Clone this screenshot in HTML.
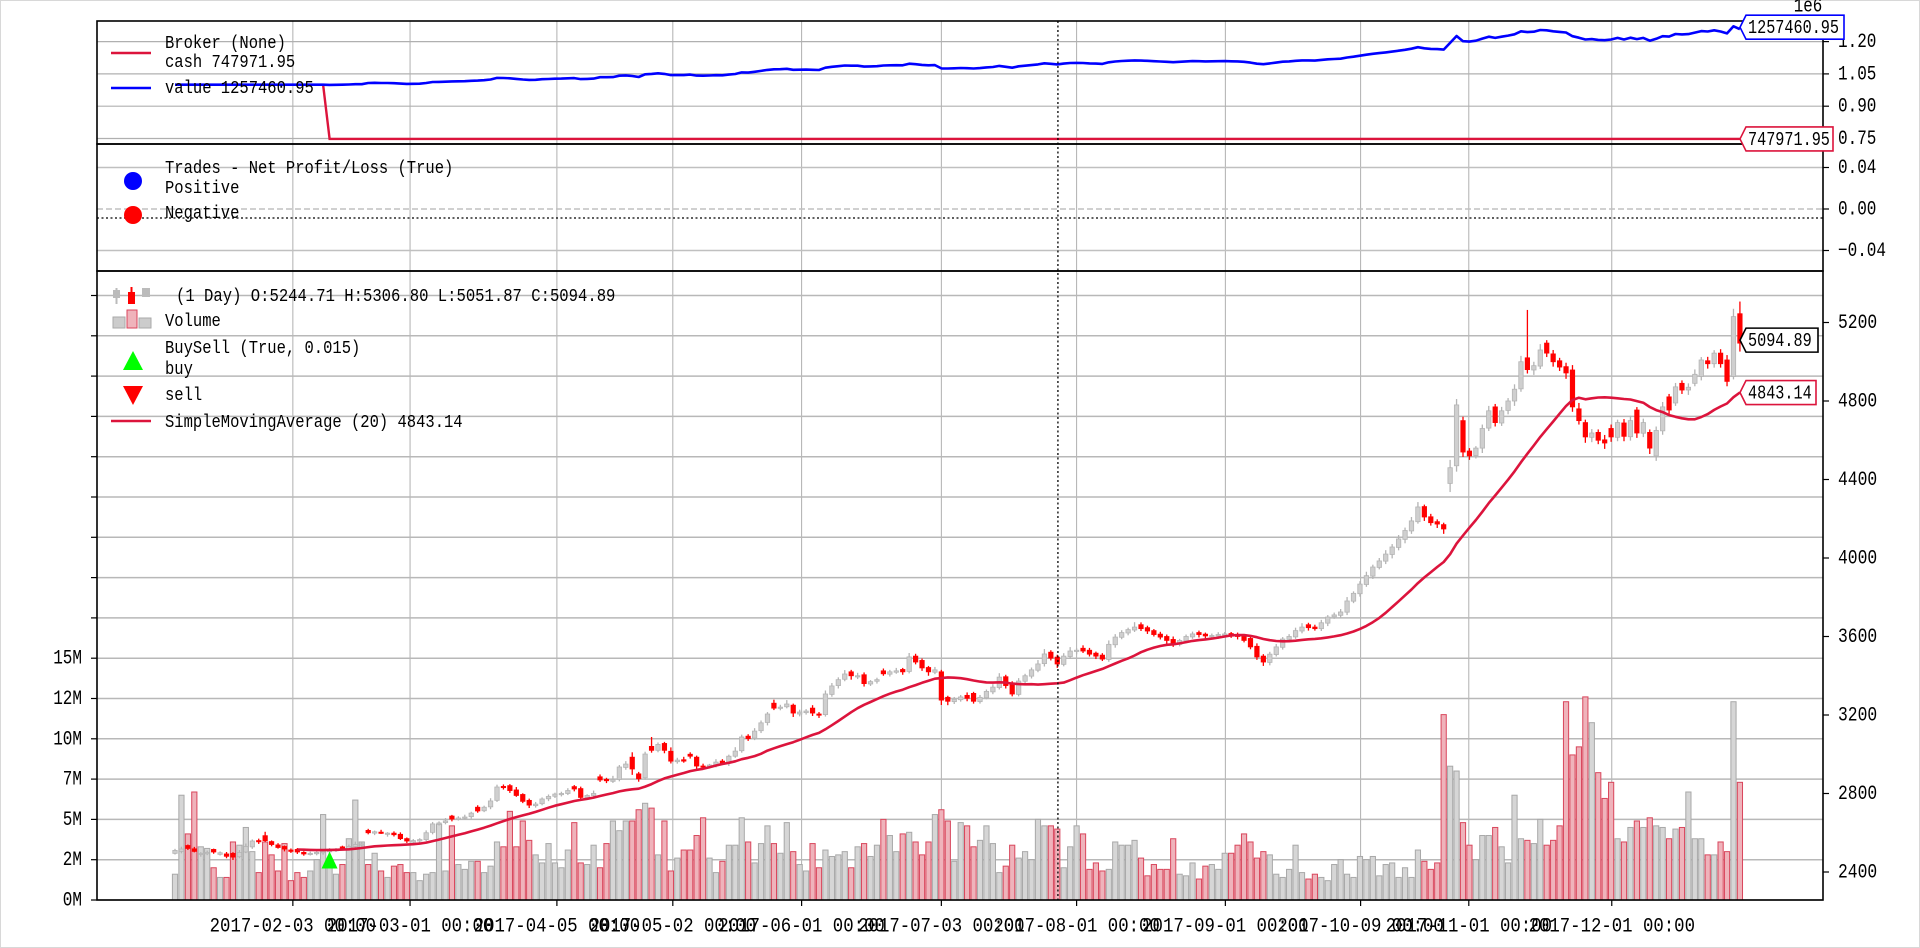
<!DOCTYPE html>
<html><head><meta charset="utf-8"><title>Backtrader chart</title>
<style>html,body{margin:0;padding:0;background:#fff}svg{display:block}text{font-family:"Liberation Mono","DejaVu Sans Mono",monospace;fill:#000}</style>
</head><body>
<svg id="chart" width="1920" height="948" viewBox="0 0 1920 948" xmlns="http://www.w3.org/2000/svg">
<rect x="0.5" y="0.5" width="1919" height="947" fill="#fff" stroke="#d8d8d8"/>
</svg>
<script>
const closes=[2510,2517,2520,2505,2495,2500,2502,2498,2480,2476,
2500,2530,2558,2555,2560,2540,2525,2517,2505,2502,
2492,2495,2500,2505,2510,2515,2520,2530,2540,2543,
2600,2605,2600,2598,2590,2570,2558,2560,2565,2600,
2645,2650,2660,2670,2675,2680,2700,2711,2730,2762,
2833,2830,2815,2790,2760,2741,2746,2772,2785,2797,
2800,2815,2823,2780,2790,2800,2869,2865,2870,2935,
2950,2925,2875,3001,3020,3050,3020,2965,2970,2965,
2990,2940,2935,2945,2960,2955,2990,3016,3088,3080,
3118,3160,3205,3235,3240,3256,3210,3215,3220,3210,
3200,3307,3348,3380,3409,3400,3400,3360,3370,3380,
3410,3420,3425,3420,3496,3470,3440,3420,3430,3276,
3270,3280,3292,3285,3270,3290,3320,3342,3393,3350,
3307,3373,3400,3430,3460,3511,3490,3460,3500,3526,
3530,3526,3510,3500,3485,3560,3597,3620,3635,3648,
3640,3628,3610,3597,3580,3562,3580,3600,3613,3610,
3603,3605,3610,3613,3605,3600,3580,3547,3496,3470,
3510,3547,3587,3600,3630,3648,3645,3640,3670,3699,
3710,3725,3781,3820,3867,3910,3954,3985,4020,4056,
4097,4140,4189,4260,4209,4180,4173,4148,4460,4780,
4540,4520,4560,4660,4750,4690,4750,4800,4860,5000,
4960,4980,5060,5044,5000,4973,4943,4770,4700,4617,
4637,4600,4586,4617,4690,4620,4700,4637,4690,4560,
4650,4770,4754,4872,4856,4870,4936,5009,4990,5044,
4990,4900,5230,5094.89];
const opens=[2495,2505,2535,2518,2490,2493,2515,2490,2492,2495,
2478,2502,2528,2560,2585,2555,2538,2530,2512,2515,
2500,2490,2493,2498,2503,2508,2528,2518,2530,2538,
2612,2598,2603,2592,2598,2592,2570,2552,2558,2565,
2602,2644,2652,2685,2668,2674,2682,2730,2712,2732,
2765,2836,2840,2818,2795,2765,2738,2748,2773,2786,
2795,2800,2835,2825,2778,2790,2885,2872,2862,2872,
2933,2985,2900,2880,3040,3020,3055,3015,2962,2972,
3000,2985,2940,2935,2945,2965,2955,2990,3018,3092,
3082,3120,3162,3260,3236,3242,3250,3205,3212,3235,
3205,3202,3305,3350,3382,3420,3395,3405,3358,3372,
3425,3408,3418,3432,3422,3500,3478,3442,3418,3420,
3290,3268,3278,3300,3310,3268,3288,3318,3340,3395,
3360,3305,3372,3398,3428,3462,3520,3495,3458,3498,
3524,3540,3530,3515,3505,3483,3558,3596,3618,3633,
3660,3645,3630,3612,3600,3585,3560,3578,3598,3620,
3612,3600,3603,3608,3615,3608,3602,3590,3550,3500,
3468,3508,3545,3585,3598,3628,3660,3648,3640,3668,
3700,3708,3724,3780,3818,3865,3908,3952,3984,4018,
4054,4095,4138,4185,4262,4210,4185,4170,4380,4470,
4700,4545,4522,4560,4662,4770,4688,4752,4800,4862,
5020,4958,4978,5095,5040,5005,4975,4958,4760,4690,
4615,4640,4602,4660,4615,4688,4618,4754,4636,4640,
4520,4648,4821,4790,4890,4856,4890,4925,5005,4990,
5044,5009,4925,5244.71];
const upWicks=[8,12,5,10,6,9,4,7,10,6,12,15,8,10,20,6,9,5,8,7,
6,9,5,8,12,7,6,10,15,9,8,6,12,5,9,10,6,8,7,12,
10,8,15,6,9,12,7,10,8,14,12,10,8,15,6,9,11,8,10,7,
9,12,8,10,6,15,12,8,20,10,15,25,10,12,48,10,8,20,12,15,
10,8,12,6,15,10,8,20,12,10,15,12,10,18,12,20,8,12,10,15,
10,18,15,12,20,10,15,12,8,10,12,10,15,8,20,12,10,8,15,10,
8,12,10,15,8,12,10,15,20,10,12,15,10,12,20,25,10,12,15,20,
10,15,12,8,10,20,15,12,10,25,12,10,8,12,10,15,8,10,12,10,
8,10,12,10,8,12,10,8,15,10,12,15,10,12,15,20,10,12,15,10,
12,15,20,10,15,20,12,15,20,15,20,15,20,25,10,15,12,10,40,30,
20,15,10,20,25,15,20,15,25,30,244,20,30,15,20,15,20,25,30,15,
20,15,25,20,15,20,25,15,20,15,20,25,15,20,15,20,25,15,20,15,
20,25,40,62.09];
const lowWicks=[6,10,8,5,12,7,9,6,10,15,8,6,10,12,7,9,6,12,8,10,
9,6,8,10,12,6,8,9,7,10,8,10,6,12,9,7,10,6,12,8,
10,7,9,12,6,8,10,9,7,12,8,10,12,7,9,15,10,8,12,9,
10,8,12,15,9,7,10,12,8,10,12,30,15,10,12,10,15,12,10,8,
12,15,10,8,12,10,15,8,10,12,10,12,15,10,12,8,20,12,10,15,
15,10,12,15,10,20,12,15,10,12,10,12,8,15,10,12,15,20,10,25,
20,12,10,15,12,10,8,12,10,15,12,10,15,12,10,15,12,20,10,12,
15,10,12,15,10,12,15,10,12,10,12,15,10,12,20,15,10,12,10,15,
12,10,15,10,12,15,10,12,15,20,15,10,12,15,10,12,15,10,12,15,
10,12,15,10,15,12,15,10,15,20,15,20,15,10,20,15,20,25,44,30,
25,20,15,25,15,20,15,20,25,15,20,25,15,20,25,20,30,25,20,30,
25,20,30,25,20,25,20,25,20,30,25,20,25,15,20,25,15,20,25,20,
20,25,15,43.02];
const volumes=[1.6,6.5,4.1,6.7,3.3,3.2,2.0,1.4,1.4,3.6,
3.4,4.5,3.0,1.7,3.6,2.8,1.8,3.5,1.2,1.7,
1.4,1.8,2.5,5.3,2.4,1.6,2.2,3.8,6.2,3.6,
2.2,2.9,1.8,1.4,2.1,2.2,1.7,1.7,1.2,1.6,
1.7,4.7,1.8,4.6,2.2,1.9,2.4,2.4,1.7,2.1,
3.6,3.3,5.5,3.3,4.9,3.7,2.8,2.3,3.5,2.3,
2.0,3.1,4.8,2.3,2.2,3.4,2.0,3.5,4.9,4.3,
4.9,4.9,5.6,6.0,5.7,2.8,4.9,1.8,2.6,3.1,
3.1,4.0,5.1,2.6,1.7,2.4,3.4,3.4,5.1,3.6,
2.3,3.5,4.6,3.5,2.9,4.8,3.0,2.2,1.8,3.5,
2.0,3.1,2.7,2.8,3.0,2.0,3.3,3.5,2.7,3.4,
5.0,4.0,3.0,4.1,4.2,3.6,2.8,3.6,5.3,5.6,
4.9,2.4,4.8,4.6,3.3,3.7,4.6,3.5,1.7,2.1,
3.4,2.6,3.0,2.5,5.0,4.6,4.6,4.4,2.0,3.3,
4.6,4.1,1.9,2.3,1.8,1.9,3.6,3.4,3.4,3.7,
2.6,1.5,2.2,1.9,1.9,3.8,1.6,1.5,2.3,1.3,
2.1,2.2,1.9,2.9,2.9,3.4,4.1,3.6,2.6,3.0,
2.8,1.6,1.4,1.9,3.4,1.7,1.3,1.6,1.4,1.2,
2.2,2.5,1.6,1.4,2.7,2.5,2.7,1.5,2.2,2.3,
1.4,2.0,1.4,3.1,2.4,1.9,2.3,11.5,8.3,8.0,
4.8,3.4,2.5,4.0,4.0,4.5,3.3,2.3,6.5,3.8,
3.7,3.5,5.0,3.4,3.7,4.6,12.3,9.0,9.5,12.6,
11.0,7.9,6.3,7.3,3.8,3.6,4.5,4.9,4.5,5.1,
4.6,4.5,3.8,4.4,4.5,6.7,3.8,3.8,2.8,2.8,
3.6,3.0,12.3,7.3];
const xTickIndex=[18.3,36.5,59.3,77.3,97.3,119,140,163.1,184.1,200.9,223.1];
const xTickLabels=["2017-02-03 00:00","2017-03-01 00:00","2017-04-05 00:00","2017-05-02 00:00","2017-06-01 00:00","2017-07-03 00:00","2017-08-01 00:00","2017-09-01 00:00","2017-10-09 00:00","2017-11-01 00:00","2017-12-01 00:00"];
const priceTicks=[2400,2800,3200,3600,4000,4400,4800,5200];
const volTickLabels=["0M","2M","5M","7M","10M","12M","15M"];
const brokerTicks=[1.20,1.05,0.90,0.75];
const brokerTickLabels=["1.20","1.05","0.90","0.75"];
const tradeTicks=[0.04,0,-0.04];
const tradeTickLabels=["0.04","0.00","\u22120.04"];
const startCash=1000000;
const cashAfterBuy=747971.95;
const unitsHeld=100;
const buyIndex=24;
const smaPeriod=20;
const cursorIndex=137.1;

const NS="http://www.w3.org/2000/svg";
const svg=document.getElementById('chart');
const L=97,R=1823;
const X0=175,DX=6.44;
function xAt(i){return X0+i*DX;}
function priceY(p){return 872-(p-2400)*78.5/400;}
function volY(v){return 900-v/2.5*40.3;}
function brokerY(v){return 41.6+(1.2e6-v)/150000*32.3;}
function tradeY(v){return 209-v/0.04*41.5;}
function mk(tag,attrs,parent){const e=document.createElementNS(NS,tag);for(const k in attrs)e.setAttribute(k,attrs[k]);(parent||svg).appendChild(e);return e;}
function txt(x,y,s,size,cw,anchor,parent){const t=mk('text',{x:x,y:y,'font-size':size,'text-anchor':anchor||'start','dominant-baseline':'central',textLength:(s.length*cw).toFixed(1),lengthAdjust:'spacingAndGlyphs'},parent);t.textContent=s;return t;}

// grid group
const grid=mk('g',{});


xTickIndex.forEach((ti,k)=>{
  const x=xAt(ti);
  const gl=mk('line',{x1:x,x2:x,y1:21,y2:900,stroke:'#b0b0b0','stroke-width':1},grid);
  
  
  const tk=mk('line',{x1:x,x2:x,y1:900,y2:906,stroke:'#000','stroke-width':1.2});
  
  
  const lb=txt(x,927,xTickLabels[k],20,10.4,'middle');
  
  
});
brokerTicks.forEach((v,k)=>{
  const y=brokerY(v*1e6);
  const gl=mk('line',{x1:L,x2:R,y1:y,y2:y,stroke:'#b0b0b0','stroke-width':1.2},grid);
  
  
  const tk=mk('line',{x1:R,x2:R+6,y1:y,y2:y,stroke:'#000','stroke-width':1.2});
  
  
  const lb=txt(R+15,y+1,brokerTickLabels[k],20,9.6,'start');
  
  
});
tradeTicks.forEach((v,k)=>{
  const y=tradeY(v);
  const gl=mk('line',{x1:L,x2:R,y1:y,y2:y,stroke:'#c0c0c0','stroke-width':1.5,'stroke-dasharray':v===0?'6,3':'none'},grid);
  
  
  const tk=mk('line',{x1:R,x2:R+6,y1:y,y2:y,stroke:'#000','stroke-width':1.2});
  
  
  const lb=txt(R+15,y+1,tradeTickLabels[k],20,9.6,'start');
  
  
});
for(let k=0;k<=15;k++){
  const y=volY(k*2.5);
  const gl=mk('line',{x1:L,x2:R,y1:y,y2:y,stroke:'#b8b8b8','stroke-width':1.5},grid);
  
  
  const tk=mk('line',{x1:L-6,x2:L,y1:y,y2:y,stroke:'#000','stroke-width':1.2});
  
  
  if(k<volTickLabels.length){
    const lb=txt(L-15,y+1,volTickLabels[k],20,9.6,'end');
    
    
  }
}
priceTicks.forEach(p=>{
  const y=priceY(p);
  const tk=mk('line',{x1:R,x2:R+6,y1:y,y2:y,stroke:'#000','stroke-width':1.2});
  
  
  const lb=txt(R+15,y+1,String(p),20,9.8,'start');
  
  
});

// volume bars
const volG=mk('g',{});


volumes.forEach((v,i)=>{
  const down=closes[i]<opens[i];
  const y=volY(v);
  const b=mk('rect',{x:xAt(i)-2.6,y:y,width:5.2,height:900-y,fill:down?'#efb3bb':'#d6d6d6',stroke:down?'#d9465c':'#a8a8a8','stroke-width':1},volG);
  
  
});

// candles
const cG=mk('g',{});


closes.forEach((c,i)=>{
  const o=opens[i];const down=c<o;
  const hi=Math.max(o,c)+upWicks[i];const lo=Math.min(o,c)-lowWicks[i];
  const col=down?'#ff0000':'#b4b4b4';
  const x=xAt(i);
  const w=mk('line',{x1:x,x2:x,y1:priceY(hi),y2:priceY(lo),stroke:col,'stroke-width':1.3},cG);
  
  
  const yt=priceY(Math.max(o,c)),yb=priceY(Math.min(o,c));
  const b=mk('rect',{x:x-2.2,y:yt,width:4.4,height:Math.max(1.2,yb-yt),fill:down?'#ff0000':'#cfcfcf',stroke:col,'stroke-width':0.8},cG);
  
  
});

// SMA
let smaPts=[];let lastSma=0;
for(let i=smaPeriod-1;i<closes.length;i++){
  let s=0;for(let j=i-smaPeriod+1;j<=i;j++)s+=closes[j];
  lastSma=s/smaPeriod;
  smaPts.push(xAt(i).toFixed(1)+','+priceY(lastSma).toFixed(1));
}
const sma=mk('polyline',{points:smaPts.join(' '),fill:'none',stroke:'#dc143c','stroke-width':2.6,'stroke-linejoin':'round'});



// buy marker
const bLow=Math.min(opens[buyIndex],closes[buyIndex])-lowWicks[buyIndex];
const by=priceY(bLow*(1-0.015));const bx=xAt(buyIndex);
const buyM=mk('polygon',{points:`${bx},${by-10} ${bx-8},${by+7} ${bx+8},${by+7}`,fill:'#00ff00'});



// broker lines
let cashPts=[],valPts=[];let lastVal=startCash,lastCash=startCash;
closes.forEach((c,i)=>{
  lastCash=i<buyIndex?startCash:cashAfterBuy;
  lastVal=i<buyIndex?startCash:cashAfterBuy+unitsHeld*c;
  cashPts.push(xAt(i).toFixed(1)+','+brokerY(lastCash).toFixed(1));
  valPts.push(xAt(i).toFixed(1)+','+brokerY(lastVal).toFixed(1));
});
const cashL=mk('polyline',{points:cashPts.join(' '),fill:'none',stroke:'#dc143c','stroke-width':2.4});


const valL=mk('polyline',{points:valPts.join(' '),fill:'none',stroke:'#0000ff','stroke-width':2.6,'stroke-linejoin':'round'});



// cursor lines
const cx=xAt(cursorIndex);
const vc=mk('line',{x1:cx,x2:cx,y1:21,y2:900,stroke:'#000','stroke-width':1.3,'stroke-dasharray':'2,2.5'});


const hc=mk('line',{x1:L,x2:R,y1:218,y2:218,stroke:'#000','stroke-width':1.3,'stroke-dasharray':'2,2.5'});



// spines
[[21,144,'broker-panel-frame'],[144,271,'trades-panel-frame'],[271,900,'price-panel-frame']].forEach(a=>{
  const f=mk('rect',{x:L,y:a[0],width:R-L,height:a[1]-a[0],fill:'none',stroke:'#000','stroke-width':1.6});
  
  
});
const e6=txt(1808,7,'1e6',20,9.5,'middle');



// tags
function tag(yc,w,label,color,name){
  const x0=1740;
  const p=mk('polygon',{points:`${x0},${yc} ${x0+6},${yc-12} ${x0+w},${yc-12} ${x0+w},${yc+12} ${x0+6},${yc+12}`,fill:'#fff',stroke:color,'stroke-width':1.6});
  
  
  const t=txt(x0+8,yc+1,label,19,9.1,'start');
  
  
}
tag(brokerY(lastVal)-2,104,lastVal.toFixed(2),'#0000ff','value-tag');
tag(brokerY(lastCash),93,lastCash.toFixed(2),'#dc143c','cash-tag');
const lastC=closes[closes.length-1];
tag(priceY(lastC)-3,78,lastC.toFixed(2),'#000','close-tag');
tag(priceY(lastSma),76,lastSma.toFixed(2),'#dc143c','sma-tag');

// legends
function legLine(y,color,name){const l=mk('line',{x1:111,x2:151,y1:y,y2:y,stroke:color,'stroke-width':2.6});}
function legText(y,s,name){const t=txt(165,y,s,18,9.3,'start');}
legLine(53,'#dc143c','legend-cash-swatch');
legText(44,'Broker (None)','legend-broker-title');
legText(63,'cash '+lastCash.toFixed(2),'legend-cash');
legLine(88,'#0000ff','legend-value-swatch');
legText(89,'value '+lastVal.toFixed(2),'legend-value');
const pc=mk('ellipse',{cx:133,cy:181,rx:9,ry:9,fill:'#0000ff'});


legText(169,'Trades - Net Profit/Loss (True)','legend-trades-title');
legText(189,'Positive','legend-positive');
const nc=mk('ellipse',{cx:133,cy:215,rx:9,ry:9,fill:'#ff0000'});


legText(214,'Negative','legend-negative');
// candle icon
const ci=mk('g',{});


mk('rect',{x:113,y:290,width:7,height:8,fill:'#bbb'},ci);
mk('line',{x1:116.5,x2:116.5,y1:288,y2:304,stroke:'#bbb','stroke-width':2},ci);
mk('rect',{x:128,y:292,width:7,height:12,fill:'#ff0000'},ci);
mk('line',{x1:131.5,x2:131.5,y1:287,y2:304,stroke:'#ff0000','stroke-width':2},ci);
mk('rect',{x:142,y:288,width:8,height:9,fill:'#bbb'},ci);
const o=opens[opens.length-1];const hi=Math.max(o,lastC)+upWicks[upWicks.length-1];const lo=Math.min(o,lastC)-lowWicks[lowWicks.length-1];
const ct=txt(176,297,'(1 Day) O:'+o.toFixed(2)+' H:'+hi.toFixed(2)+' L:'+lo.toFixed(2)+' C:'+lastC.toFixed(2),18,9.35,'start');


const vi=mk('g',{});


mk('rect',{x:113,y:317,width:12,height:11,fill:'#ccc',stroke:'#aaa'},vi);
mk('rect',{x:127,y:310,width:10,height:18,fill:'#efb3bb',stroke:'#d9465c'},vi);
mk('rect',{x:139,y:318,width:12,height:10,fill:'#ccc',stroke:'#aaa'},vi);
legText(322,'Volume','legend-volume');
legText(349,'BuySell (True, 0.015)','legend-buysell-title');
const gt=mk('polygon',{points:'133,351 123,370 143,370',fill:'#00ff00'});


legText(370,'buy','legend-buy');
const rt=mk('polygon',{points:'123,386 143,386 133,405',fill:'#ff0000'});


legText(396,'sell','legend-sell');
legLine(421,'#dc143c','legend-sma-swatch');
legText(423,'SimpleMovingAverage (20) '+lastSma.toFixed(2),'legend-sma');
</script>
</body></html>
